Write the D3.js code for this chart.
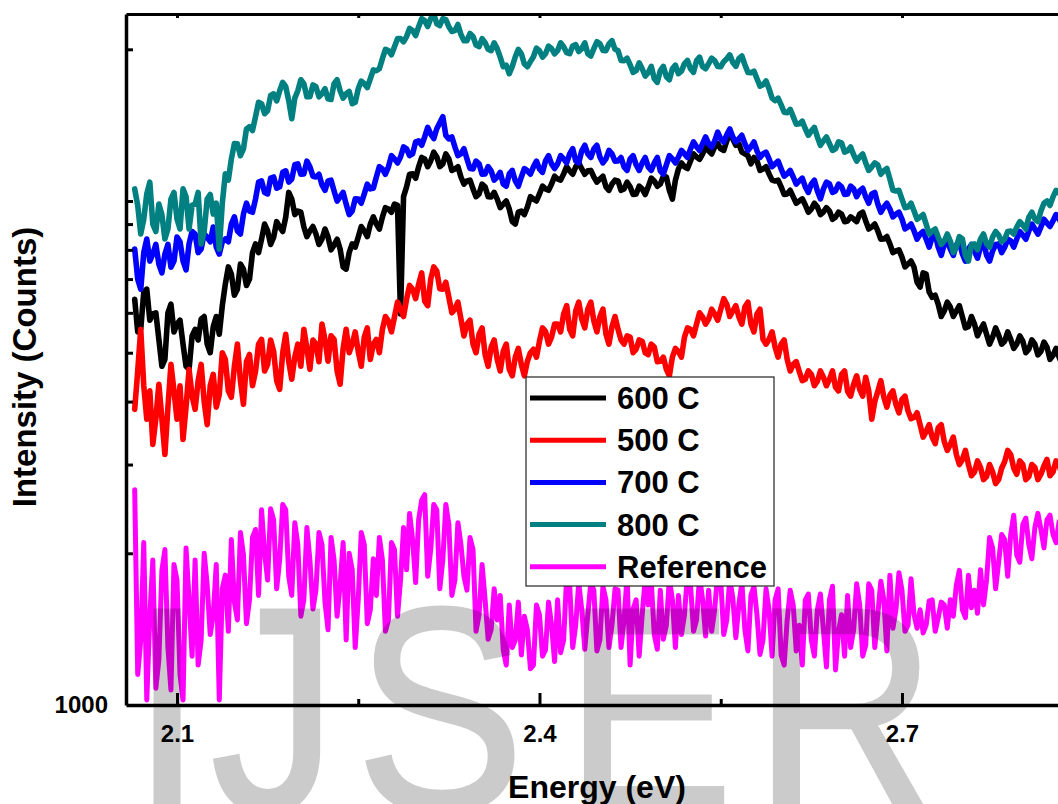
<!DOCTYPE html>
<html><head><meta charset="utf-8">
<script src="https://cdn.jsdelivr.net/npm/d3@7"></script>
<style>body{margin:0;background:#fff;} svg{display:block;font-family:"Liberation Sans",Arial,sans-serif;}</style>
</head><body><svg id="chart" width="1058" height="804"></svg>
<script>
// ---- data ----
const energyStart = 2.065, energyStep = 0.0025;   // sampling grid of the spectra (eV)
const seriesNames = ["600 C", "500 C", "700 C", "800 C", "Reference"];
const seriesColors = ["#000000", "#ff0000", "#0000ff", "#008080", "#ff00ff"];

const counts600 = [
6385,5500,5565,6600,6685,5800,5970,6000,5315,4700, 4850,6000,6240,5500,5700,5800,5200,4700,4635,5400,
5565,5300,5830,5900,5200,5000,5630,5900,5440,6200, 6840,7400,7160,6500,6685,7500,7325,6800,7000,7900,
8220,7900,8405,9000,8720,8200,8480,9100,8880,8700, 9290,10400,10090,9400,9550,9500,8880,8500,8720,8900,
8600,8200,8405,8800,8480,8000,8180,8400,8030,7400, 7325,7900,8220,8100,8480,8900,8720,8500,9000,9300,
9000,8800,9290,9700,9640,9500,9860,9800,5970,10200, 10670,11300,11320,11100,11690,12200,12120,11700,12010,12500,
12230,11700,11850,12400,12120,11500,11580,11700,11160,10800, 10960,11000,10570,10200,10330,10800,10670,10200,10190,10400,
10090,9700,9860,10000,9640,9100,9000,9500,9550,9400, 9730,10200,10090,10000,10330,10700,10570,10500,10810,11200,
11060,11000,11320,11700,11480,11300,11690,11900,11580,11300, 11480,11500,11160,10900,11060,11200,10670,10500,10810,11000,
10960,10500,10570,10900,10670,10300,10330,10700,10570,10300, 10670,11100,10960,10700,10810,11200,11160,10500,10090,11000,
11580,11900,11690,11600,12010,12400,12230,12100,12400,12800, 12580,12400,12810,13000,12690,12600,13160,13600,13280,12900,
12990,12500,12400,12300,11850,12200,12010,11500,11580,11700, 11320,11000,10960,11000,10670,10300,10330,10500,10190,9900,
10000,10100,9820,9500,9640,9900,9730,9400,9510,9700, 9550,9200,9290,9500,9420,9100,9130,9300,9210,9100,
9420,9500,9130,8800,8880,9000,8720,8400,8405,8500, 8220,7900,7960,8000,7740,7400,7500,7600,7390,6900,
6750,7200,7160,6600,6440,6500,6240,5900,6050,6300, 6160,5900,6050,6200,5890,5600,5630,5900,5700,5400,
5565,5700,5440,5200,5370,5600,5420,5200,5270,5500, 5315,5100,5200,5400,5270,5000,5080,5300,5200,4950,
5030,5250,5130,4850,4940,5100,4900,4750,4850];

const counts500 = [
3860,4600,5565,4300,3690,4200,3290,3700,4330,3700, 3140,3900,4740,4200,3690,4300,3365,3900,4635,4100,
3860,4400,4740,4000,3600,4300,4530,3900,4130,5000, 4850,4200,4080,4700,5200,4400,3950,4800,4960,4300,
4590,5200,5315,4600,4740,5300,5030,4400,4230,5000, 5440,4800,4430,4900,5200,4700,5565,5100,4635,5300,
5200,4800,5700,5300,4810,5400,5315,4600,4330,5100, 5565,5000,5200,5500,5030,4700,5370,5600,4850,5200,
5315,5000,5565,5900,5780,5500,5890,6300,6100,5900, 6385,6800,6685,6400,6840,7200,6330,6200,7000,7400,
7260,6700,6685,6900,6440,6000,6100,6300,5830,5400, 5700,5800,5200,5000,5440,5600,4960,4700,5130,5300,
4850,4600,5030,5200,4635,4500,4900,5100,4740,4500, 4810,5000,5080,4900,5270,5600,5515,5200,5370,5700,
5700,5500,5970,6200,5565,5400,6050,6300,5830,5600, 6100,6300,5780,5500,5890,6100,5440,5200,5630,5900,
5565,5300,5200,5400,5370,5000,5080,5300,5270,5000, 4960,5200,5130,4800,4810,4900,4635,4500,4900,5100,
5030,4900,5370,5600,5565,5400,5700,6000,5890,5700, 5830,6100,5970,5800,6100,6400,6240,5900,6050,6200,
5890,5700,6160,6300,5700,5500,5970,6100,5315,5200, 5315,5500,5130,4900,5200,5300,4850,4600,4740,4800,
4590,4400,4430,4600,4530,4300,4390,4600,4470,4300, 4430,4600,4270,4200,4530,4600,4190,4100,4330,4500,
4230,4100,4470,4200,3690,4000,4190,4400,4080,3900, 4120,4200,3950,3800,4040,4100,3830,3700,3720,3800,
3600,3400,3490,3600,3400,3300,3550,3600,3330,3200, 3290,3400,3140,3000,3070,3200,3000,2850,2900,3050,
2960,2800,2840,3000,2900,2750,2800,2950,3040,3200, 3140,2950,2870,3050,3000,2800,2840,3000,2960,2800,
2870,2980,3070,2850,2900,3050,3000,2850,2930];

const counts700 = [
8030,7000,6685,7900,8405,7600,7850,8200,7500,7200, 7850,8200,7390,7600,8480,8300,7600,7300,8220,8700,
8600,7900,8030,8600,8480,8300,8880,8100,7850,8300, 8405,8300,9000,9300,8720,8600,9420,9900,9550,9500,
10090,10900,10960,10400,10330,11100,11160,10600,10670,11400, 11480,10900,11060,11800,11850,11300,11320,12000,11690,11200,
11160,11300,10760,10500,10960,11000,10470,10000,10190,10400, 9860,9400,9550,10100,10090,9900,10330,10800,10570,10600,
11160,11700,11580,11300,11690,12300,12120,11900,12230,12800, 12690,12300,12400,13100,13160,12900,13400,14000,13590,13300,
13910,14300,14700,13500,13280,13400,12810,12300,12400,12700, 12120,11600,11580,12000,11850,11300,11320,11700,11480,11000,
11160,11400,10810,10700,11320,11500,10960,10700,11160,11600, 11480,11300,11690,12000,11580,11400,12010,12300,11850,11600,
11850,12300,12120,11900,12400,12700,12010,11900,12580,12900, 12400,12200,12690,12900,12230,11900,12120,12600,12400,12000,
12010,12200,11690,11500,12120,12300,11800,11500,11900,12200, 11690,11500,11900,12200,11480,11300,11800,12300,12120,11900,
12230,12600,12400,12200,12690,13100,12810,12600,12990,13400, 12990,12800,13160,13700,13280,13100,13530,13900,13400,13100,
13280,13500,12990,12600,12810,13100,12580,12200,12400,12500, 12120,11700,11850,12000,11580,11200,11320,11500,11160,10800,
10960,11100,10670,10400,10810,11000,10470,10100,10570,10900, 10810,10400,10470,10800,10670,10300,10330,10700,10570,10200,
10470,10600,10190,9900,10330,10400,9860,9500,9730,9900, 9640,9300,9420,9500,9210,8800,8880,9000,8720,8400,
8600,8700,8405,8100,8480,8600,8100,7800,8220,8300, 8030,7800,8180,8300,7850,7600,8030,8200,7960,7700,
8100,8300,7810,7600,7960,8200,8220,7900,8100,8400, 8330,8100,8405,8700,8560,8400,8720,9000,8800,8600,
8880,9200,9040,8900,9130,9400,9210,9000,9290];

const counts800 = [
10570,9800,8600,9200,10330,10900,9000,8700,9860,9400, 8405,8800,10090,10400,9210,8800,10570,10200,8800,9800,
9860,10400,8220,8700,10090,10300,9420,9900,8030,9900, 11320,11000,12120,13000,12990,12300,12690,13900,14040,13800,
14700,15700,15600,14900,15100,16200,16320,15800,16550,17200, 16860,15800,14560,16000,16550,17400,17090,16100,16100,17000,
16860,16100,16320,16700,15950,15900,17090,17400,16550,16000, 16320,16500,15600,15700,16700,17300,17090,16800,17480,18200,
18140,18300,19160,20000,19880,19500,20240,21000,21000,20700, 21200,22000,21780,21300,22180,23000,22800,22200,23010,23500,
22480,22300,23010,22900,22180,21700,21780,22400,21390,20800, 20810,21500,21200,20400,20240,21000,20620,20000,19880,20600,
20060,19300,18470,18600,17890,18500,19330,20000,19600,18700, 18470,18900,19330,20100,19880,19300,19600,20300,20060,19600,
19880,20600,20240,19700,19600,20300,20430,19800,20060,20600, 19600,19400,20060,20700,20530,19900,19880,20500,20810,20000,
19880,19000,18990,19200,18640,18000,18140,18800,18300,17700, 17970,18500,17480,17200,18140,18500,17640,17400,18300,18600,
17890,18100,18730,19000,18300,18000,18990,19300,18470,18300, 18730,19200,18990,18500,18470,18900,19160,19500,18820,18500,
19160,19400,18640,18000,17970,18100,17480,16900,17010,17300, 16700,16000,15810,16000,15520,15000,14970,15200,14700,14200,
14230,14400,13910,13500,13780,14000,13400,12900,13160,13400, 12990,12600,12690,13100,13040,12500,12580,12800,12350,12000,
12230,12400,11900,11500,11690,11900,11800,11300,11480,11600, 11060,10500,10470,10500,10090,9700,9730,9900,9550,9200,
9290,9400,9000,8600,8720,8800,8480,8200,8330,8600, 8330,7900,8100,8500,8405,7800,7600,8200,8220,8000,
8405,8600,8220,8100,8480,8700,8560,8300,8405,8700, 8720,8600,8880,9100,8960,8800,9290,9500,9210,9100,
9550,9900,10000,9800,10190,10500,10380,10200,10470];

const countsRef = [
2675,1150,1346,2100,1023,1500,1940,1080,1229,1850, 2035,1300,1071,1900,1770,1150,1023,2050,1617,1250,
1940,1200,1346,2000,1730,1380,1510,1900,1023,1700, 1810,1400,2130,1600,1475,2200,1985,1450,1617,2150,
2230,1650,2440,2000,1770,2450,2330,1700,1940,2500, 2440,1800,1650,2300,2080,1500,1617,2250,1940,1550,
1690,2200,2080,1600,1410,2150,1940,1500,1730,2100, 1346,2000,1855,1300,1617,2200,2080,1450,1545,1950,
1650,2150,1940,1400,1475,2100,2035,1500,1770,2250, 1855,2400,2130,1750,2330,2550,2615,1800,2035,2500,
2440,1700,1940,2500,2280,1650,1770,2300,2080,1800, 1690,2150,2035,1400,1510,1900,1617,1350,1410,1700,
1475,1650,1286,1200,1580,1300,1346,1600,1257,1500, 1410,1180,1200,1580,1510,1250,1286,1600,1440,1220,
1617,1270,1346,1800,1730,1300,1440,1750,1545,1290, 1510,1750,1690,1280,1346,1720,1617,1300,1440,1700,
1690,1300,1475,1800,1200,1550,1617,1250,1510,1780, 1580,1760,1380,1290,1690,1350,1440,1780,1617,1300,
1650,1380,1510,1820,1730,1400,1475,1800,1617,1370, 1690,1400,1545,1830,1770,1380,1475,1780,1630,1360,
1580,1750,1410,1280,1650,1720,1510,1260,1346,1700, 1545,1250,1617,1700,1257,1200,1475,1690,1580,1280,
1440,1200,1617,1660,1346,1250,1545,1660,1410,1190, 1617,1720,1174,1400,1510,1250,1650,1300,1410,1740,
1580,1250,1315,1740,1690,1300,1510,1760,1617,1280, 1810,1420,1545,1830,1690,1400,1440,1780,1510,1420,
1545,1390,1440,1610,1617,1400,1490,1600,1580,1420, 1617,1500,1730,1850,1545,1490,1810,1560,1690,1520,
1855,1580,1770,2150,2050,1700,1920,2180,2130,1800, 2180,2380,1985,1920,2280,2350,2080,1950,2250,2400,
2230,2050,2330,2380,2180,2100,2310,2060,2250];

const seriesValues = [counts600, counts500, counts700, counts800, countsRef];
const xMajorTicks = [2.1, 2.4, 2.7];
const xMinorTicks = [2.25, 2.55];
const yTicks = [2000, 3000, 4000, 5000, 6000, 7000, 8000, 9000, 10000, 20000];
const yLabelTicks = [1000];
const watermarkLetters = ["I", "J", "S", "E", "R"];

// ---- layout ----
const svg = d3.select("#chart");
const L = 126, R = 1075, T = 14, B = 705;
const x = d3.scaleLinear().domain([2.0578, 2.8432]).range([L, R]);
const y = d3.scaleLog().domain([1000, 23500]).range([B, T]);

svg.append("defs").append("clipPath").attr("id", "clip")
  .append("rect").attr("x", L).attr("y", T).attr("width", R - L).attr("height", B - T);

const plot = svg.append("g").attr("clip-path", "url(#clip)");
const line = d3.line().x((d, i) => x(energyStart + i * energyStep)).y(d => y(d));
seriesValues.forEach((vals, k) => {
  plot.append("path").datum(vals)
    .attr("d", line)
    .attr("fill", "none")
    .attr("stroke", seriesColors[k])
    .attr("stroke-width", k === 4 ? 5 : 5.6)
    .attr("stroke-linejoin", "round")
    .attr("stroke-linecap", "round");
});

// axes
function styleAxis(g, w) {
  g.selectAll("path.domain").attr("stroke", "#000").attr("stroke-width", w);
  g.selectAll(".tick line").attr("stroke", "#000").attr("stroke-width", 3);
}
const gl = svg.append("g").attr("transform", `translate(${L},0)`)
  .call(d3.axisLeft(y).tickValues(yTicks).tickSize(-7).tickSizeOuter(0).tickFormat(""));
styleAxis(gl, 3.5);
const gl2 = svg.append("g").attr("transform", `translate(${L},0)`)
  .call(d3.axisLeft(y).tickValues(yLabelTicks).tickSize(0).tickPadding(18).tickFormat(d3.format("d")));
gl2.select("path.domain").remove();
gl2.selectAll("text").attr("font-size", 24).attr("font-weight", "bold").attr("fill", "#000")
  .attr("font-family", "Liberation Sans, Arial, sans-serif");

const gb = svg.append("g").attr("transform", `translate(0,${B})`)
  .call(d3.axisBottom(x).tickValues(xMajorTicks).tickSize(-12).tickSizeOuter(0).tickPadding(20).tickFormat(d3.format(".1f")));
styleAxis(gb, 3.5);
gb.selectAll("text").attr("font-size", 24).attr("font-weight", "bold").attr("fill", "#000")
  .attr("font-family", "Liberation Sans, Arial, sans-serif");
const gbm = svg.append("g").attr("transform", `translate(0,${B})`)
  .call(d3.axisBottom(x).tickValues(xMinorTicks).tickSize(-6).tickSizeOuter(0).tickFormat(""));
gbm.select("path.domain").remove();
styleAxis(gbm, 3);

const gt = svg.append("g").attr("transform", `translate(0,${T})`)
  .call(d3.axisTop(x).tickValues(xMajorTicks.concat(xMinorTicks)).tickSize(-4).tickSizeOuter(0).tickFormat(""));
styleAxis(gt, 3);

// axis titles
svg.append("text").attr("x", 597).attr("y", 798).attr("text-anchor", "middle")
  .attr("font-size", 32).attr("font-weight", "bold").text("Energy (eV)");
svg.append("text").attr("transform", "translate(36,367) rotate(-90)").attr("text-anchor", "middle")
  .attr("font-size", 33).attr("font-weight", "bold").text("Intensity (Counts)");

// legend
const lg = svg.append("g");
lg.append("rect").attr("x", 526).attr("y", 377).attr("width", 248).attr("height", 209)
  .attr("fill", "#fff").attr("stroke", "#222").attr("stroke-width", 1.2);
seriesNames.forEach((n, k) => {
  const cy = 398 + k * 42.2;
  lg.append("line").attr("x1", 530).attr("x2", 606).attr("y1", cy).attr("y2", cy)
    .attr("stroke", seriesColors[k]).attr("stroke-width", 5);
  lg.append("text").attr("x", 617).attr("y", cy + 11).attr("font-size", 31)
    .attr("font-weight", "bold").attr("fill", "#000").text(n);
});

// watermark
const wmX = [132, 211, 356, 565, 754];
const wm = svg.append("g").attr("opacity", 0.2);
watermarkLetters.forEach((c, k) => {
  wm.append("text").attr("transform", `translate(${wmX[k]},810) scale(0.87,1)`)
    .attr("font-size", 290).attr("fill", "#000").attr("stroke", "#000").attr("stroke-width", 4)
    .attr("font-family", "Liberation Sans, Arial, sans-serif").text(c);
});
</script></body></html>
